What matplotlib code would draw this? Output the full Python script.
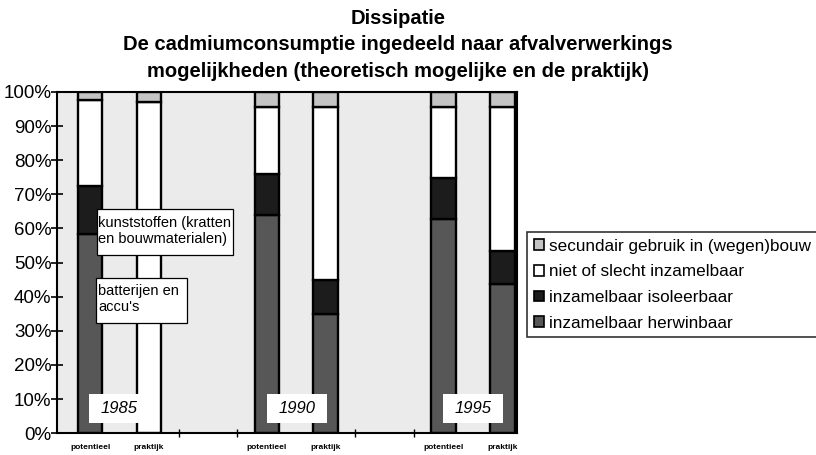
import matplotlib
matplotlib.use("Agg")
import matplotlib.pyplot as plt
from matplotlib.patches import Patch, Rectangle
import numpy as np

plt.rcParams['font.family'] = ['Liberation Sans', 'DejaVu Sans']

# data
bar_labels = ["potentieel", "praktijk", "potentieel", "praktijk", "potentieel", "praktijk"]
bar_pos = [0, 1, 3, 4, 6, 7]
years = ["1985", "1990", "1995"]
series_names = ["inzamelbaar herwinbaar", "inzamelbaar isoleerbaar",
                "niet of slecht inzamelbaar", "secundair gebruik in (wegen)bouw"]
herwinbaar = [58.5, 0.0, 64.0, 35.0, 62.7, 43.7]
isoleerbaar = [14.0, 0.0, 12.0, 10.0, 12.2, 9.8]
niet = [25.0, 97.0, 19.7, 50.7, 20.8, 42.2]
secundair = [2.5, 3.0, 4.3, 4.3, 4.3, 4.3]

colors = ["#575757", "#1c1c1c", "#ffffff", "#c4c4c4"]

W, H = 816, 455
fig = plt.figure(figsize=(W / 100, H / 100), dpi=100)
fig.patch.set_facecolor("white")
ax = fig.add_axes([0.070, 0.048, 0.564, 0.750])
ax.set_facecolor("#ebebeb")


def fx(px):
    return px / W


def fy(py):
    return 1 - py / H


series = [herwinbaar, isoleerbaar, niet, secundair]
bottom = np.zeros(len(bar_pos))
for vals, col in zip(series, colors):
    ax.bar(bar_pos, vals, width=0.42, bottom=bottom, color=col,
           edgecolor="black", linewidth=1.7, zorder=2)
    bottom += np.array(vals)

ax.set_xlim(-0.56, 7.25)
ax.set_ylim(0, 100)
ax.set_yticks(np.arange(0, 101, 10))
ax.set_yticklabels([f"{v}%" for v in range(0, 101, 10)], fontsize=13.5)
ax.tick_params(axis='y', direction='inout', length=8, width=1.2, pad=0)
ax.set_xticks(bar_pos)
ax.set_xticklabels(bar_labels, fontsize=6, fontweight='bold')
ax.tick_params(axis='x', length=0, pad=8)
ax.set_xticks([1.5, 2.5, 4.5, 5.5], minor=True)
ax.tick_params(axis='x', which='minor', direction='inout', length=6, width=1)
for s in ax.spines.values():
    s.set_linewidth(1.5)


def box(x0, y0, x1, y1, edge):
    r = Rectangle((fx(x0), fy(y1)), fx(x1) - fx(x0), fy(y0) - fy(y1),
                  transform=fig.transFigure, facecolor='white',
                  edgecolor='black' if edge else 'none', linewidth=0.9, zorder=5)
    fig.add_artist(r)


# year labels
year_boxes = [(89, 149), (267, 327), (443, 503)]
for (x0, x1), yl in zip(year_boxes, years):
    box(x0, 394, x1, 423, False)
    fig.text(fx((x0 + x1) / 2), fy(408.5), yl, fontsize=12, style='italic',
             ha='center', va='center', zorder=6)

# annotations
box(96.5, 209, 233, 255, True)
fig.text(fx(98), fy(231), "kunststoffen (kratten\nen bouwmaterialen)", fontsize=10.5,
         ha='left', va='center', linespacing=1.2, zorder=6)
box(96, 278, 187, 323, True)
fig.text(fx(98), fy(299), "batterijen en\naccu's", fontsize=10.5,
         ha='left', va='center', linespacing=1.2, zorder=6)

# title
fig.text(fx(398), fy(45), "Dissipatie\nDe cadmiumconsumptie ingedeeld naar afvalverwerkings\nmogelijkheden (theoretisch mogelijke en de praktijk)",
         ha='center', va='center', fontsize=14.5, fontweight='bold', linespacing=1.5)

# legend
handles = [Patch(facecolor=c, edgecolor='black', linewidth=1.2) for c in colors][::-1]
labels = series_names[::-1]
leg = fig.legend(handles, labels, loc='upper left', bbox_to_anchor=(fx(527), fy(232)),
                 fontsize=12.3, handlelength=0.6, handleheight=0.6, handletextpad=0.3,
                 labelspacing=0.62, borderpad=0.4, borderaxespad=0,
                 frameon=True, fancybox=False)
leg.get_frame().set_edgecolor('black')
leg.get_frame().set_linewidth(1.2)

fig.savefig("out.png", dpi=100)
